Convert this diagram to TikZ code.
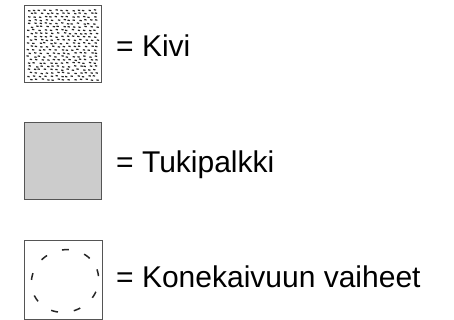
\documentclass[tikz,border=0pt]{standalone}
\usepackage{fontspec}
\setmainfont{Liberation Sans}
\usetikzlibrary{positioning}
\definecolor{boxline}{RGB}{85, 85, 85}
\definecolor{boxfill}{RGB}{204, 204, 204}
\tikzset{
	legendbox/.style={shape=rectangle, draw=boxline, line width=1pt, inner sep=0pt, minimum width=77pt, minimum height=77pt},
	legendtext/.style={anchor=base west, inner sep=0pt, font=\fontsize{30}{36}\selectfont},
	stonedot/.style={line width=1.2pt, black!85},
}

\begin{document}
\begin{tikzpicture}[x=1pt, y=-1pt]
		\useasboundingbox (0,0) rectangle (454,320);
		
		% Kivi
		\node[legendbox] (kivi) at (62.5,44.5) {};
		\pgfmathsetseed{11}
		\foreach \r in {0,...,21}{
			\foreach \c in {0,...,12}{
				\pgfmathsetmacro{\dx}{26.5+\c*5.5+2.5*rnd+mod(\r,2)*2}
				\pgfmathsetmacro{\dy}{9.5+\r*3.3+1.2*rnd}
				\draw[stonedot] (\dx,\dy) -- ++(2.3,0.4);
			}
		}
		\node[legendtext] (kivitxt) at (116,57) {= Kivi};
		
		% Tukipalkki
		\node[legendbox, fill=boxfill, minimum height=76pt] (tuki) at (62.5,161) {};
		\node[legendtext] (tukitxt) at (116,172) {= Tukipalkki};
		
		% Konekaivuun vaiheet
		\node[legendbox, minimum width=78pt, minimum height=79pt] (kaivu) at (63,279.5) {};
		\draw[line width=1.5pt, black!85, dash pattern=on 7pt off 16pt, rotate around={20:(65,281)}] (65,281) ellipse (34 and 31);
		\node[legendtext] (kaivutxt) at (116,287) {= Konekaivuun vaiheet};
	\end{tikzpicture}
\end{document}
